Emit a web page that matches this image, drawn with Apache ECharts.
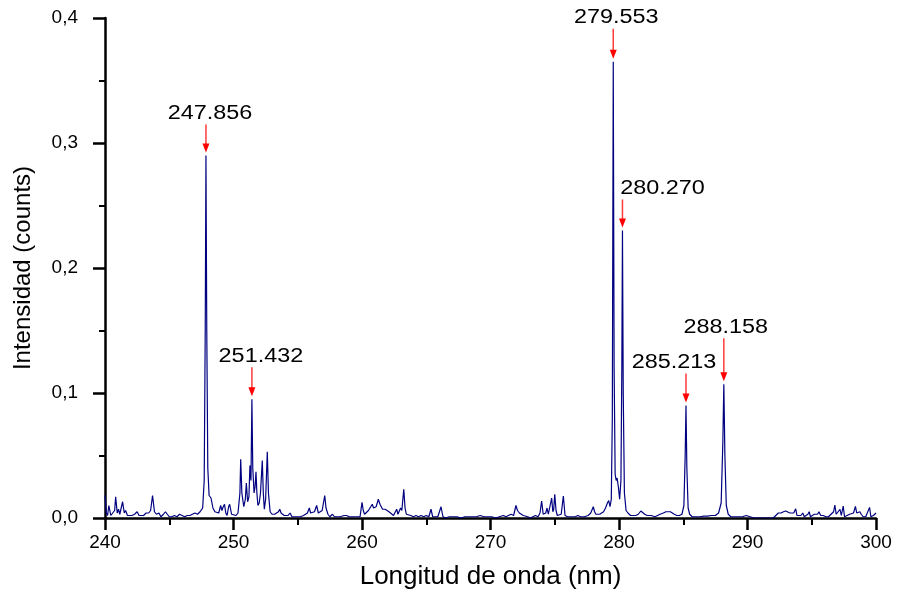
<!DOCTYPE html>
<html>
<head>
<meta charset="utf-8">
<title>Espectro</title>
<script src="https://cdn.jsdelivr.net/npm/echarts@6/dist/echarts.min.js"></script>
</head>
<body style="margin:0">
<div id="main" style="width:900px;height:598px;"></div>
<script type="text/javascript">
var wavelength = [
  240.0, 240.1, 240.2, 240.3, 240.45, 240.6, 240.75, 240.83, 240.95, 241.05, 241.15, 241.37, 241.5, 241.6, 241.75, 241.9,
  242.1, 242.3, 242.5, 242.65, 242.8, 243.0, 243.2, 243.4, 243.55, 243.7, 243.85, 244.0, 244.2, 244.35, 244.55, 244.7, 244.85,
  245.0, 245.2, 245.4, 245.6, 245.8, 246.0, 246.2, 246.4, 246.6, 246.8, 247.0, 247.2, 247.4, 247.6, 247.72, 247.8, 247.856,
  247.92, 248.0, 248.1, 248.25, 248.4, 248.55, 248.7, 248.85, 249.0, 249.1, 249.2, 249.3, 249.4, 249.5, 249.62, 249.7, 249.85,
  250.0, 250.2, 250.35, 250.5, 250.56, 250.65, 250.8, 250.92, 251.0, 251.1, 251.2, 251.28, 251.36, 251.432, 251.5, 251.6,
  251.68, 251.75, 251.82, 251.9, 252.0, 252.1, 252.24, 252.32, 252.4, 252.5, 252.63, 252.72, 252.85, 253.0, 253.2, 253.35,
  253.5, 253.6, 253.7, 253.8, 253.95, 254.1, 254.25, 254.4, 254.55, 254.8, 255.0, 255.2, 255.45, 255.6, 255.75, 255.9, 256.0,
  256.15, 256.3, 256.47, 256.6, 256.75, 256.9, 257.0, 257.1, 257.2, 257.35, 257.5, 257.7, 257.85, 258.0, 258.3, 258.6, 258.8,
  259.0, 259.3, 259.6, 259.85, 260.0, 260.1, 260.2, 260.35, 260.5, 260.65, 260.8, 260.9, 261.0, 261.1, 261.27, 261.4, 261.5,
  261.6, 261.8, 261.95, 262.1, 262.25, 262.45, 262.6, 262.7, 262.8, 262.9, 263.0, 263.1, 263.25, 263.35, 263.45, 263.6, 263.8,
  264.0, 264.2, 264.4, 264.6, 264.8, 265.0, 265.2, 265.37, 265.5, 265.7, 265.9, 266.15, 266.3, 266.5, 266.8, 267.1, 267.4,
  267.7, 268.0, 268.3, 268.6, 268.9, 269.2, 269.5, 269.8, 270.1, 270.4, 270.7, 271.0, 271.2, 271.4, 271.6, 271.8, 271.98,
  272.1, 272.25, 272.4, 272.55, 272.7, 272.9, 273.1, 273.3, 273.5, 273.7, 273.85, 273.98, 274.1, 274.2, 274.3, 274.4, 274.5,
  274.6, 274.76, 274.85, 274.92, 275.0, 275.1, 275.2, 275.35, 275.5, 275.67, 275.8, 276.0, 276.3, 276.6, 276.8, 277.0, 277.3,
  277.6, 277.8, 278.0, 278.1, 278.2, 278.35, 278.5, 278.65, 278.8, 278.95, 279.1, 279.2, 279.3, 279.4, 279.48, 279.553,
  279.62, 279.7, 279.78, 279.85, 279.95, 280.05, 280.15, 280.22, 280.27, 280.33, 280.42, 280.55, 280.7, 280.9, 281.1, 281.3,
  281.5, 281.7, 281.85, 282.0, 282.2, 282.5, 282.8, 283.0, 283.2, 283.45, 283.65, 283.8, 284.0, 284.1, 284.3, 284.5, 284.7,
  284.9, 285.05, 285.15, 285.213, 285.28, 285.38, 285.5, 285.7, 286.0, 286.3, 286.6, 286.9, 287.2, 287.5, 287.75, 287.95,
  288.08, 288.158, 288.24, 288.35, 288.5, 288.7, 289.0, 289.3, 289.6, 289.9, 290.05, 290.2, 290.5, 290.8, 291.1, 291.4,
  291.7, 292.0, 292.2, 292.4, 292.6, 292.8, 292.97, 293.1, 293.3, 293.45, 293.6, 293.75, 293.85, 294.0, 294.15, 294.3,
  294.42, 294.55, 294.7, 294.8, 294.9, 295.05, 295.2, 295.3, 295.45, 295.56, 295.7, 295.9, 296.1, 296.3, 296.5, 296.7, 296.8,
  296.9, 297.05, 297.2, 297.3, 297.45, 297.55, 297.75, 297.95, 298.1, 298.25, 298.4, 298.5, 298.6, 298.75, 298.85, 299.0,
  299.2, 299.35, 299.5, 299.6, 299.8, 300.0
];
var intensity = [
  0.018, 0.004, 0.002, 0.010, 0.002, 0.003, 0.006, 0.017, 0.004, 0.007, 0.003, 0.013, 0.004, 0.006, 0.002, 0.003,
  0.002, 0.003, 0.005, 0.002, 0.003, 0.002, 0.004, 0.004, 0.006, 0.018, 0.005, 0.003, 0.004, 0.001, 0.003, 0.005, 0.003,
  0.001, 0.001, 0.002, 0.001, 0.003, 0.002, 0.001, 0.002, 0.002, 0.003, 0.004, 0.003, 0.005, 0.008, 0.030, 0.150, 0.290,
  0.150, 0.040, 0.018, 0.016, 0.008, 0.005, 0.006, 0.004, 0.010, 0.006, 0.009, 0.011, 0.004, 0.002, 0.009, 0.011, 0.003,
  0.002, 0.002, 0.004, 0.020, 0.047, 0.020, 0.009, 0.015, 0.028, 0.013, 0.017, 0.042, 0.030, 0.095, 0.040, 0.020,
  0.025, 0.037, 0.020, 0.010, 0.012, 0.020, 0.046, 0.020, 0.007, 0.015, 0.053, 0.020, 0.005, 0.003, 0.003, 0.004,
  0.005, 0.007, 0.004, 0.005, 0.002, 0.003, 0.002, 0.004, 0.001, 0.001, 0.001, 0.001, 0.002, 0.002, 0.004, 0.008, 0.004,
  0.003, 0.005, 0.010, 0.004, 0.003, 0.006, 0.012, 0.018, 0.008, 0.003, 0.001, 0.003, 0.001, 0.001, 0.001, 0.002, 0.002,
  0.001, 0.001, 0.001, 0.001, 0.0125, 0.006, 0.003, 0.004, 0.006, 0.007, 0.011, 0.008, 0.007, 0.009, 0.015, 0.011, 0.010,
  0.007, 0.007, 0.006, 0.005, 0.004, 0.002, 0.002, 0.007, 0.003, 0.003, 0.008, 0.006, 0.023, 0.008, 0.003, 0.002, 0.002,
  0.001, 0.002, 0.001, 0.002, 0.001, 0.002, 0.001, 0.007, 0.001, 0.001, 0.001, 0.009, 0.001, 0.000, 0.001, 0.001, 0.001,
  0.000, 0.001, 0.001, 0.001, 0.001, 0.002, 0.001, 0.001, 0.001, 0.000, 0.001, 0.002, 0.001, 0.002, 0.003, 0.002, 0.010,
  0.006, 0.004, 0.005, 0.002, 0.001, 0.001, 0.000, 0.001, 0.002, 0.001, 0.004, 0.0136, 0.003, 0.002, 0.004, 0.008, 0.003,
  0.004, 0.016, 0.005, 0.007, 0.019, 0.006, 0.002, 0.001, 0.003, 0.0176, 0.002, 0.001, 0.001, 0.001, 0.002, 0.001, 0.001,
  0.002, 0.004, 0.009, 0.005, 0.003, 0.004, 0.003, 0.002, 0.005, 0.008, 0.012, 0.014, 0.009, 0.015, 0.080, 0.365,
  0.120, 0.035, 0.030, 0.032, 0.025, 0.015, 0.030, 0.120, 0.230, 0.100, 0.020, 0.006, 0.004, 0.002, 0.002, 0.002,
  0.003, 0.0056, 0.004, 0.003, 0.002, 0.002, 0.001, 0.002, 0.003, 0.004, 0.005, 0.0064, 0.005, 0.004, 0.003, 0.002, 0.002,
  0.003, 0.010, 0.050, 0.090, 0.040, 0.008, 0.003, 0.001, 0.001, 0.001, 0.0015, 0.0015, 0.002, 0.002, 0.004, 0.012,
  0.060, 0.107, 0.050, 0.010, 0.003, 0.001, 0.001, 0.001, 0.001, 0.002, 0.002, 0.001, 0.000, 0.000, 0.000, 0.000,
  0.000, 0.000, 0.002, 0.004, 0.004, 0.005, 0.0056, 0.004, 0.004, 0.003, 0.004, 0.0074, 0.002, 0.001, 0.002, 0.004,
  0.001, 0.001, 0.003, 0.005, 0.001, 0.002, 0.003, 0.002, 0.003, 0.005, 0.002, 0.002, 0.001, 0.001, 0.003, 0.005, 0.0104,
  0.003, 0.003, 0.007, 0.002, 0.0096, 0.001, 0.002, 0.003, 0.002, 0.004, 0.0093, 0.004, 0.003, 0.005, 0.003, 0.001,
  0.001, 0.002, 0.0085, 0.001, 0.002, 0.004
];

// picos identificados
var peakWave = [247.856, 251.432, 279.553, 280.270, 285.213, 288.158];
var peakHeight = [0.290, 0.095, 0.365, 0.230, 0.090, 0.107];
var peakLabel = ['247.856', '251.432', '279.553', '280.270', '285.213', '288.158'];

var yTickLabels = ['0,0', '0,1', '0,2', '0,3', '0,4'];

// ajustes de las flechas (desplazamiento del texto y largo de flecha, px)
var labelDx = [4, 9, 3, 40, -12, 2];
var arrowLen = [28, 29, 30, 28, 29, 43];

var FONT = '"Liberation Sans", Arial, Helvetica, sans-serif';

var myChart = echarts.init(document.getElementById('main'));

var lineData = wavelength.map(function (w, i) { return [w, intensity[i]]; });
var peakData = peakWave.map(function (w, i) { return [w, peakHeight[i], i]; });

function renderArrow(params, api) {
    var p = api.coord([api.value(0), api.value(1)]);
    var i = api.value(2);
    var tip = p[1] - 3;
    var top = tip - arrowLen[i];
    return {
        type: 'group',
        children: [
            {
                type: 'line',
                shape: { x1: p[0], y1: top, x2: p[0], y2: tip - 8 },
                style: { stroke: '#ff3b3b', lineWidth: 1.5 }
            },
            {
                type: 'polygon',
                shape: { points: [[p[0] - 3.5, tip - 9], [p[0] + 3.5, tip - 9], [p[0], tip]] },
                style: { fill: '#ff0000' }
            },
            {
                type: 'text',
                x: p[0] + labelDx[i],
                y: top - 1,
                scaleX: 1.17,
                style: {
                    text: peakLabel[i],
                    fontSize: 20,
                    fontFamily: FONT,
                    fill: '#000',
                    align: 'center',
                    verticalAlign: 'bottom'
                }
            }
        ]
    };
}

var option = {
    animation: false,
    backgroundColor: '#fff',
    grid: { left: 105, right: 24, top: 18, bottom: 80 },
    xAxis: {
        type: 'value',
        min: 240,
        max: 300,
        interval: 10,
        name: 'Longitud de onda (nm)',
        nameLocation: 'middle',
        nameGap: 46,
        nameTextStyle: { fontSize: 26, color: '#000', fontFamily: FONT },
        axisLine: { lineStyle: { color: '#000', width: 2.5 } },
        axisTick: { inside: false, length: 12, lineStyle: { color: '#000', width: 2.5 } },
        minorTick: { show: true, splitNumber: 2, length: 7, lineStyle: { color: '#000', width: 2 } },
        splitLine: { show: false },
        axisLabel: { margin: 15, fontSize: 19, color: '#000', fontFamily: FONT }
    },
    yAxis: {
        type: 'value',
        min: 0,
        max: 0.4,
        interval: 0.1,
        name: 'Intensidad (counts)',
        nameLocation: 'middle',
        nameGap: 70,
        nameTextStyle: { fontSize: 24, color: '#000', fontFamily: FONT },
        axisLine: { show: true, lineStyle: { color: '#000', width: 2.5 } },
        axisTick: { show: true, inside: false, length: 12, lineStyle: { color: '#000', width: 2.5 } },
        minorTick: { show: true, splitNumber: 2, length: 6, lineStyle: { color: '#000', width: 2 } },
        splitLine: { show: false },
        axisLabel: {
            margin: 27,
            fontSize: 19,
            color: '#000',
            fontFamily: FONT,
            formatter: function (v) { return yTickLabels[Math.round(v * 10)]; }
        }
    },
    series: [
        {
            name: 'espectro',
            type: 'line',
            data: lineData,
            showSymbol: false,
            symbol: 'none',
            smooth: false,
            lineStyle: { color: '#000080', width: 1.2 },
            z: 2
        },
        {
            name: 'picos',
            type: 'custom',
            coordinateSystem: 'cartesian2d',
            data: peakData,
            renderItem: renderArrow,
            clip: false,
            z: 3
        }
    ]
};

myChart.setOption(option);
</script>
</body>
</html>
